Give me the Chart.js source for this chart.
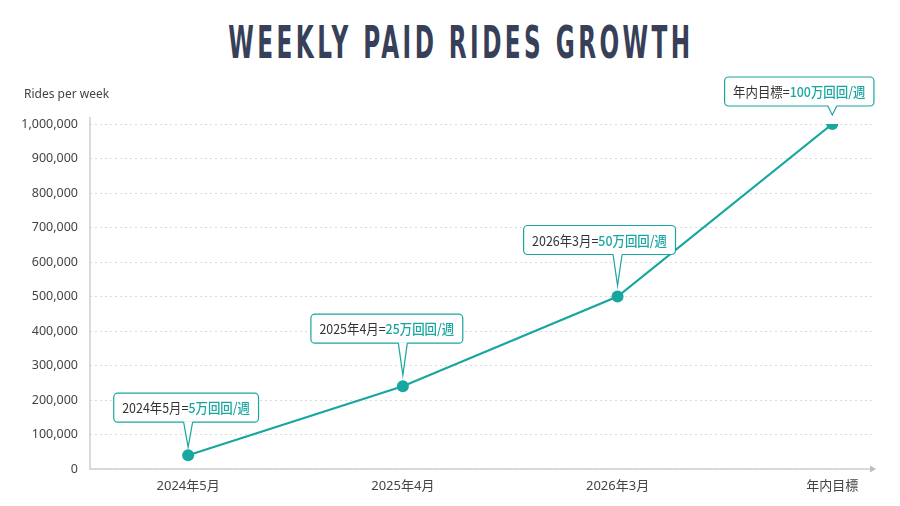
<!DOCTYPE html>
<html>
<head>
<meta charset="utf-8">
<title>Weekly paid rides growth</title>
<script src="https://cdn.jsdelivr.net/npm/chart.js@4.4.1/dist/chart.umd.min.js"></script>
<style>
  html, body { margin: 0; padding: 0; background: #fff; width: 900px; height: 506px; overflow: hidden; }
  #wrap { position: relative; width: 900px; height: 506px; }
  #title {
    position: absolute; left: 461px; top: 20px; margin: 0;
    font-family: "DejaVu Sans Condensed", "Liberation Sans Narrow", "DejaVu Sans", sans-serif;
    font-weight: bold; font-size: 45px; line-height: 45px; letter-spacing: 6px;
    color: #383f58; white-space: nowrap; transform-origin: center top;
    transform: translateX(-50%);
  }
  #myChart { position: absolute; left: 0; top: 0; }
</style>
</head>
<body>
<div id="wrap">
  <h1 id="title">WEEKLY PAID RIDES GROWTH</h1>
  <canvas id="myChart" width="900" height="506"></canvas>
</div>
<script>
/* ---- Datos ---- */
const categories    = ["2024年5月", "2025年4月", "2026年3月", "年内目標"];
const ridesPerWeek  = [40000, 240000, 500000, 1000000];
const calloutPrefix = ["2024年5月=", "2025年4月=", "2026年3月=", "年内目標="];
const calloutValue  = ["5万回回/週", "25万回回/週", "50万回回/週", "100万回回/週"];
const yAxisTitle    = "Rides per week";

/* ---- Estilos ---- */
const TEAL  = "#18a6a0";
const TEXT  = "#444";
const AXIS  = "#cfcfcf";
const FONT  = "'Noto Sans', 'Noto Sans CJK JP', sans-serif";
const FONT_JP = "'Noto Sans CJK JP', 'Noto Sans', sans-serif";

// desplazamiento de cada globo respecto a su punto (px)
const calloutLayout = [
  { dx: -2,  gap: 33, tip: 8 },
  { dx: -16, gap: 43, tip: 11 },
  { dx: -18, gap: 42, tip: 11 },
  { dx: -33, gap: 18, tip: 9 },
];

/* ---- Título ajustado al ancho ---- */
const title = document.getElementById("title");
const k = 462 / (title.offsetWidth - 6);
title.style.transform = "translateX(-50%) scaleX(" + k + ")";

/* ---- Ejes dibujados a mano (línea Y + flecha X) ---- */
const axesPlugin = {
  id: "axesPlugin",
  beforeDatasetsDraw(chart) {
    const { ctx, chartArea: a } = chart;
    ctx.save();
    ctx.strokeStyle = AXIS;
    ctx.lineWidth = 1.5;
    ctx.beginPath();
    ctx.moveTo(a.left, a.top - 7);
    ctx.lineTo(a.left, a.bottom);
    ctx.lineTo(a.right, a.bottom);
    ctx.stroke();
    ctx.fillStyle = "#bdbdbd";
    ctx.beginPath();
    ctx.moveTo(a.right + 4, a.bottom);
    ctx.lineTo(a.right - 2, a.bottom - 3.5);
    ctx.lineTo(a.right - 2, a.bottom + 3.5);
    ctx.closePath();
    ctx.fill();

    ctx.fillStyle = TEXT;
    ctx.font = "12px " + FONT;
    ctx.textBaseline = "middle";
    ctx.textAlign = "left";
    ctx.fillText(yAxisTitle, 24, 95);
    ctx.restore();
  }
};

/* ---- Globos de anotación ---- */
const calloutPlugin = {
  id: "calloutPlugin",
  afterDatasetsDraw(chart) {
    const { ctx } = chart;
    const points = chart.getDatasetMeta(0).data;
    const fontA = "13.5px " + FONT_JP;
    const fontB = "500 13.5px " + FONT_JP;
    const sx = 0.92;              // texto algo estrecho, como en la referencia
    const pad = 8.5, h = 29, r = 4;

    points.forEach((p, i) => {
      const lay = calloutLayout[i];
      ctx.save();
      ctx.font = fontA;
      const wA = ctx.measureText(calloutPrefix[i]).width;
      ctx.font = fontB;
      const wB = ctx.measureText(calloutValue[i]).width;
      const w = (wA + wB) * sx + pad * 2;
      const cx = p.x + lay.dx;
      const bottom = p.y - lay.gap;
      const x0 = cx - w / 2, y0 = bottom - h;
      const tipY = p.y - lay.tip;

      ctx.fillStyle = "#fff";
      ctx.strokeStyle = TEAL;
      ctx.lineWidth = 1.2;
      ctx.beginPath();
      ctx.roundRect(x0, y0, w, h, r);
      ctx.fill();
      ctx.stroke();

      // puntero
      ctx.beginPath();
      ctx.moveTo(p.x - 4.5, bottom - 1);
      ctx.lineTo(p.x, tipY);
      ctx.lineTo(p.x + 4.5, bottom - 1);
      ctx.closePath();
      ctx.fill();
      ctx.beginPath();
      ctx.moveTo(p.x - 4.5, bottom);
      ctx.lineTo(p.x, tipY);
      ctx.lineTo(p.x + 4.5, bottom);
      ctx.stroke();

      ctx.translate(x0 + pad, y0 + h / 2 + 0.5);
      ctx.scale(sx, 1);
      ctx.textBaseline = "middle";
      ctx.textAlign = "left";
      ctx.font = fontA;
      ctx.fillStyle = "#333";
      ctx.fillText(calloutPrefix[i], 0, 0);
      ctx.font = fontB;
      ctx.fillStyle = TEAL;
      ctx.fillText(calloutValue[i], wA, 0);
      ctx.restore();
    });
  }
};

/* ---- Gráfico ---- */
const ctx = document.getElementById("myChart").getContext("2d");
new Chart(ctx, {
  type: "line",
  data: {
    datasets: [{
      data: categories.map((c, i) => ({ x: i, y: ridesPerWeek[i] })),
      borderColor: TEAL,
      backgroundColor: TEAL,
      borderWidth: 2.2,
      pointBackgroundColor: TEAL,
      pointBorderWidth: 0,
      pointRadius: 6,
      tension: 0,
    }],
  },
  options: {
    responsive: false,
    animation: false,
    devicePixelRatio: 1,
    layout: { padding: { top: 124, right: 28, left: 0, bottom: 0 } },
    plugins: { legend: { display: false }, tooltip: { enabled: false }, title: { display: false } },
    scales: {
      x: {
        type: "linear",
        min: -0.457,
        max: 3.185,
        afterBuildTicks: s => { s.ticks = categories.map((c, i) => ({ value: i })); },
        afterFit: s => { s.height = 37; },
        grid: { display: false },
        border: { display: false },
        ticks: {
          autoSkip: false, maxRotation: 0, padding: 1,
          color: TEXT, font: { family: FONT, size: 13 },
          callback: v => categories[v],
        },
      },
      y: {
        min: 0,
        max: 1000000,
        afterFit: s => { s.width = 90; },
        grid: { color: "#dadada", lineWidth: 1, drawTicks: false, borderDash: [2, 3] },
        border: { display: false, dash: [2, 3] },
        ticks: {
          stepSize: 100000, padding: 12,
          color: TEXT, font: { family: FONT, size: 12.5 },
          callback: v => v.toLocaleString("en-US"),
        },
      },
    },
  },
  plugins: [axesPlugin, calloutPlugin],
});
</script>
</body>
</html>
